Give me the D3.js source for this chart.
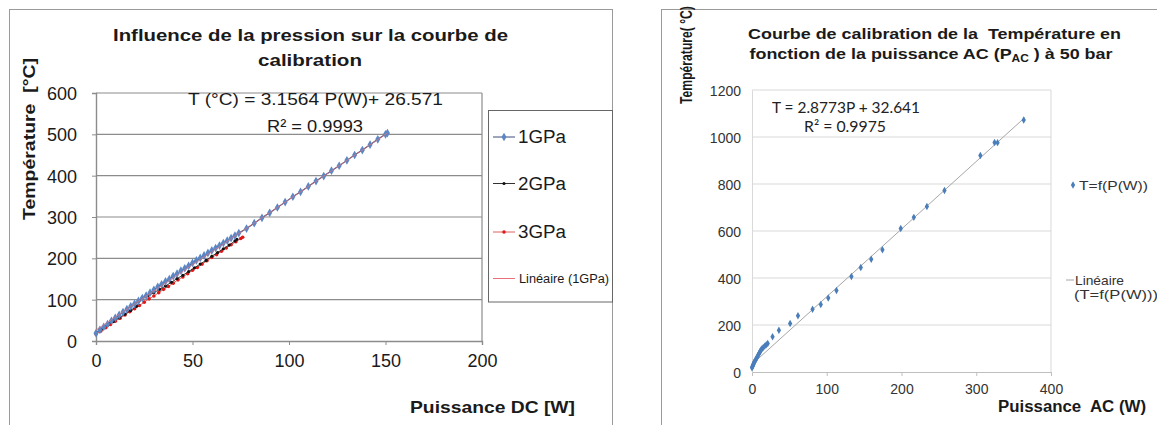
<!DOCTYPE html>
<html><head><meta charset="utf-8">
<script src="https://cdn.jsdelivr.net/npm/d3@7"></script>
<style>body{margin:0;background:#fff}svg{display:block}text{font-family:"Liberation Sans",Arial,sans-serif;white-space:pre}</style>
</head><body><svg id="c" width="1157" height="425"></svg>
<script>
// ---------- LEFT CHART DATA ----------
const p1GPa = [0,2,4,6,8,10,12,14,16,18,20,22,24,26,28,30,32,34,36,38,40,42,44,46,48,50,52,54,56,58,60,62,64,66,68,70,72,74,78,82,86,90,94,98,102,106,110,114,118,122,126,130,134,138,142,146,150,151];
const t1GPa = [19,27,34,41,49,56,63,70,77,84,90,97,104,110,117,124,131,137,144,150,157,163,170,176,182,189,195,201,207,213,219,225,231,237,243,249,255,261,272,285,298,310,323,336,349,361,374,387,399,412,424,437,450,462,475,488,500,503];
const p2GPa = [0,3,6,9,12,15,18,21,24,27,30,33,36,39,42,45,48,51,54,57,60,63,66,69,72,73];
const t2GPa = [20,29,38,47,56,65,74,84,104,110,117,125,133,142,151,159,168,177,186,195,205,214,223,232,242,246];
const p3GPa = [0,2.5,5,7.5,10,12.5,15,17.5,20,22.5,25,27.5,30,32.5,35,37.5,40,42.5,45,47.5,50,52.5,55,57.5,60,62.5,65,67.5,70,72.5,75,76];
const t3GPa = [17,24,32,40,48,55,63,71,78,86,94,102,109,117,125,132,140,148,155,163,171,178,186,194,202,209,217,225,233,240,248,251];
const fitLeft = {slope:3.1564, intercept:26.571, pMin:0, pMax:151};
const leftXTicks = [0,50,100,150,200];
const leftYTicks = [0,100,200,300,400,500,600];
const leftSeriesNames = ["1GPa","2GPa","3GPa","Linéaire (1GPa)"];

// ---------- RIGHT CHART DATA ----------
const pAC = [0,0.5,1,1.5,2,2.5,3,4,5,6,7,8,9,10,11,12,13,15,17,19,21,27.5,36,51,61.5,81,92,102,113,133,145.5,159.5,174.5,199,216.5,234,257.5,305.5,324.5,328.5,363.5];
const tAC = [18,22,26,30,34,38,42,47,52,58,64,70,76,82,88,93,98,104,110,116,121,150,178,206,239,267,287,315,347,406,445,480,520,611,658,704,772,921,977,976,1072];
const fitRight = {slope:2.8773, intercept:32.641, pMin:0, pMax:365};
const rightXTicks = [0,100,200,300,400];
const rightYTicks = [0,200,400,600,800,1000,1200];
const rightSeriesNames = ["T=f(P(W))","Linéaire","(T=f(P(W)))"];

const svg = d3.select("#c");

function txt(g, x, y, s, o={}) {
  const t = g.append("text").attr("x", x).attr("y", y).text(s)
    .attr("font-size", o.size || 16)
    .attr("font-weight", o.weight || "normal")
    .attr("fill", o.fill || "#1a1a1a")
    .attr("text-anchor", o.anchor || "start");
  if (o.family) t.style("font-family", o.family);
  if (o.len) t.attr("textLength", o.len).attr("lengthAdjust", "spacingAndGlyphs");
  if (o.rot) t.attr("transform", `rotate(-90,${x},${y})`);
  return t;
}

// ===================== LEFT =====================
{
  const g = svg.append("g");
  g.append("rect").attr("x", 9.5).attr("y", 9.5).attr("width", 603).attr("height", 500)
    .attr("fill", "none").attr("stroke", "#9a9a9a").attr("stroke-width", 1);

  const x = d3.scaleLinear().domain([0, 200]).range([96, 482]);
  const y = d3.scaleLinear().domain([0, 600]).range([341, 93]);

  g.append("g").selectAll("line").data(leftYTicks.filter(d => d > 0)).join("line")
    .attr("x1", x(0)).attr("x2", x(200)).attr("y1", d => y(d)).attr("y2", d => y(d))
    .attr("stroke", "#8c8c8c").attr("stroke-width", 1.2);
  g.append("line").attr("x1", x(200)).attr("x2", x(200)).attr("y1", y(600)).attr("y2", y(0))
    .attr("stroke", "#8c8c8c").attr("stroke-width", 1.2);

  const xa = g.append("g").attr("transform", `translate(0,${y(0)})`)
    .call(d3.axisBottom(x).tickValues(leftXTicks).tickSize(4).tickFormat(d3.format("d")));
  xa.select(".domain").attr("stroke", "#8c8c8c").attr("stroke-width", 1.4);
  xa.selectAll(".tick line").attr("stroke", "#8c8c8c");
  xa.selectAll(".tick text").attr("font-size", 18).attr("fill", "#1a1a1a").attr("dy", "1.05em")
    .style("font-family", '"Liberation Sans",Arial,sans-serif');

  const ya = g.append("g").attr("transform", `translate(${x(0)},0)`)
    .call(d3.axisLeft(y).tickValues(leftYTicks).tickSize(4).tickFormat(d3.format("d")));
  ya.select(".domain").attr("stroke", "#8c8c8c").attr("stroke-width", 1.4);
  ya.selectAll(".tick line").attr("stroke", "#8c8c8c");
  ya.selectAll(".tick text").attr("font-size", 18).attr("fill", "#1a1a1a").attr("x", -19).attr("dy", "0.36em")
    .style("font-family", '"Liberation Sans",Arial,sans-serif');

  const line = d3.line().x(d => x(d[0])).y(d => y(d[1]));
  const s1 = p1GPa.map((p, i) => [p, t1GPa[i]]);
  const s2 = p2GPa.map((p, i) => [p, t2GPa[i]]);
  const s3 = p3GPa.map((p, i) => [p, t3GPa[i]]);

  g.append("path").datum(s3).attr("d", line).attr("fill", "none").attr("stroke", "#e06060").attr("stroke-width", 1);
  g.append("g").selectAll("circle").data(s3).join("circle")
    .attr("cx", d => x(d[0])).attr("cy", d => y(d[1])).attr("r", 1.8).attr("fill", "#e01818");
  g.append("path").datum(s2).attr("d", line).attr("fill", "none").attr("stroke", "#333").attr("stroke-width", 1);
  g.append("g").selectAll("circle").data(s2).join("circle")
    .attr("cx", d => x(d[0])).attr("cy", d => y(d[1])).attr("r", 1.6).attr("fill", "#111");
  g.append("path").datum(s1).attr("d", line).attr("fill", "none").attr("stroke", "#3b4c78").attr("stroke-width", 1.2);
  const diamond = d3.symbol().type(d3.symbolDiamond).size(22);
  g.append("g").selectAll("path").data(s1).join("path")
    .attr("transform", d => `translate(${x(d[0])},${y(d[1])})`).attr("d", diamond).attr("fill", "#5b87c5");
  g.append("line")
    .attr("x1", x(fitLeft.pMin)).attr("y1", y(fitLeft.slope * fitLeft.pMin + fitLeft.intercept))
    .attr("x2", x(fitLeft.pMax)).attr("y2", y(fitLeft.slope * fitLeft.pMax + fitLeft.intercept))
    .attr("stroke", "#e8707a").attr("stroke-width", 0.9).attr("opacity", 0.8);

  txt(g, 310.5, 40.5, "Influence de la pression sur la courbe de", {size: 17, weight: "bold", anchor: "middle", len: 395});
  txt(g, 310, 65.5, "calibration", {size: 17, weight: "bold", anchor: "middle", len: 104});
  txt(g, 35, 139, "Température  [°C]", {size: 17, weight: "bold", anchor: "middle", len: 162, rot: true});
  txt(g, 492.5, 413, "Puissance DC [W]", {size: 17, weight: "bold", anchor: "middle", len: 165});
  txt(g, 188, 105, "T (°C) = 3.1564 P(W)+ 26.571", {size: 17, len: 255});
  txt(g, 267, 132, "R² = 0.9993", {size: 17, len: 96});

  g.append("rect").attr("x", 488.5).attr("y", 110.5).attr("width", 124).attr("height", 191.5)
    .attr("fill", "#fff").attr("stroke", "#666").attr("stroke-width", 1);
  const ly = [137, 183.5, 232, 278.5];
  const lc = ["#3b4c78", "#333", "#e06060", "#e8707a"];
  ly.forEach((yy, i) => {
    g.append("line").attr("x1", 493).attr("x2", 515).attr("y1", yy).attr("y2", yy)
      .attr("stroke", lc[i]).attr("stroke-width", 1);
  });
  g.append("path").attr("transform", `translate(504,${ly[0]})`).attr("d", diamond).attr("fill", "#5b87c5");
  g.append("circle").attr("cx", 504).attr("cy", ly[1]).attr("r", 1.6).attr("fill", "#111");
  g.append("circle").attr("cx", 504).attr("cy", ly[2]).attr("r", 1.8).attr("fill", "#e01818");
  txt(g, 518, 143, leftSeriesNames[0], {size: 18, len: 48});
  txt(g, 518, 189.5, leftSeriesNames[1], {size: 18, len: 48});
  txt(g, 518, 238, leftSeriesNames[2], {size: 18, len: 48});
  txt(g, 519, 283, leftSeriesNames[3], {size: 12, len: 90});
}

// ===================== RIGHT =====================
{
  const g = svg.append("g");
  g.append("rect").attr("x", 661.5).attr("y", 9.5).attr("width", 600).attr("height", 500)
    .attr("fill", "none").attr("stroke", "#9a9a9a").attr("stroke-width", 1);

  const x = d3.scaleLinear().domain([0, 400]).range([752, 1051]);
  const y = d3.scaleLinear().domain([0, 1200]).range([372, 90]);

  g.append("g").selectAll("line").data(rightYTicks.filter(d => d > 0)).join("line")
    .attr("x1", x(0)).attr("x2", x(400)).attr("y1", d => y(d)).attr("y2", d => y(d))
    .attr("stroke", "#d9d9d9").attr("stroke-width", 1);
  g.append("line").attr("x1", x(400)).attr("x2", x(400)).attr("y1", y(1200)).attr("y2", y(0))
    .attr("stroke", "#d9d9d9").attr("stroke-width", 1);

  const xa = g.append("g").attr("transform", `translate(0,${y(0)})`)
    .call(d3.axisBottom(x).tickValues(rightXTicks).tickSize(4).tickFormat(d3.format("d")));
  xa.select(".domain").attr("stroke", "#bfbfbf");
  xa.selectAll(".tick line").attr("stroke", "#bfbfbf");
  xa.selectAll(".tick text").attr("font-size", 14).attr("fill", "#333").attr("dy", "1.05em")
    .style("font-family", '"Liberation Sans",Arial,sans-serif');

  const ya = g.append("g").attr("transform", `translate(${x(0)},0)`)
    .call(d3.axisLeft(y).tickValues(rightYTicks).tickSize(0).tickFormat(d3.format("d")));
  ya.select(".domain").attr("stroke", "#d9d9d9");
  ya.selectAll(".tick text").attr("font-size", 14).attr("fill", "#333").attr("x", -11).attr("dy", "0.36em")
    .style("font-family", '"Liberation Sans",Arial,sans-serif');

  g.append("line")
    .attr("x1", x(fitRight.pMin)).attr("y1", y(fitRight.slope * fitRight.pMin + fitRight.intercept))
    .attr("x2", x(fitRight.pMax)).attr("y2", y(fitRight.slope * fitRight.pMax + fitRight.intercept))
    .attr("stroke", "#a6a6a6").attr("stroke-width", 1);

  const pts = pAC.map((p, i) => [p, tAC[i]]);
  const dia = d3.symbol().type(d3.symbolDiamond).size(16);
  g.append("g").selectAll("path").data(pts).join("path")
    .attr("transform", d => `translate(${x(d[0])},${y(d[1])})`).attr("d", dia).attr("fill", "#4a7ebb");

  txt(g, 934.5, 39, "Courbe de calibration de la  Température en", {size: 15, weight: "bold", anchor: "middle", len: 373});
  const t2 = g.append("text").attr("x", 931).attr("y", 58.5).attr("text-anchor", "middle")
    .attr("font-size", 15).attr("font-weight", "bold").attr("fill", "#1a1a1a")
    .attr("textLength", 363).attr("lengthAdjust", "spacingAndGlyphs");
  t2.append("tspan").text("fonction de la puissance AC (P");
  t2.append("tspan").text("AC").attr("font-size", 10).attr("dy", 3);
  t2.append("tspan").text(" ) à 50 bar").attr("dy", -3);

  // rotated y label, compressed along its length
  g.append("text").text("Température( °C)")
    .attr("transform", "translate(692,55) rotate(-90) scale(0.76,1)")
    .attr("text-anchor", "middle").attr("font-size", 16).attr("font-weight", "bold").attr("fill", "#1a1a1a");
  txt(g, 1072, 412, "Puissance  AC (W)", {size: 16, weight: "bold", anchor: "middle", len: 148});

  txt(g, 772, 113, "T = 2.8773P + 32.641", {size: 15, family: "Lato, 'Open Sans', sans-serif", len: 148, fill: "#222"});
  txt(g, 804, 131.5, "R² = 0.9975", {size: 15, family: "Lato, 'Open Sans', sans-serif", len: 82, fill: "#222"});

  g.append("path").attr("transform", "translate(1073,185)").attr("d", dia).attr("fill", "#4a7ebb");
  txt(g, 1079, 190, rightSeriesNames[0], {size: 13, len: 69, fill: "#333"});
  g.append("line").attr("x1", 1066).attr("x2", 1074).attr("y1", 280).attr("y2", 280).attr("stroke", "#a6a6a6");
  txt(g, 1075, 285, rightSeriesNames[1], {size: 13, len: 49, fill: "#333"});
  txt(g, 1074, 299, rightSeriesNames[2], {size: 13, len: 84, fill: "#333"});
}
</script></body></html>
